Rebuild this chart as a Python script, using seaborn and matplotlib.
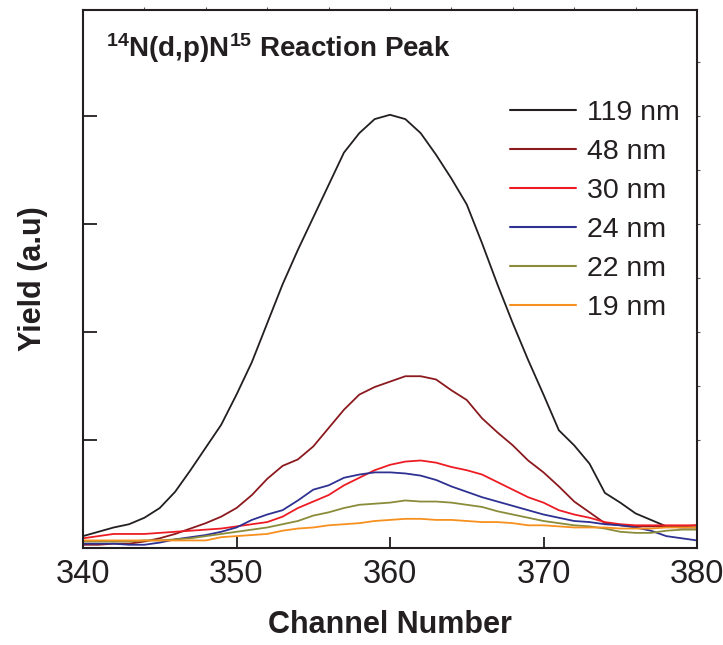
import numpy as np
import pandas as pd
import matplotlib
matplotlib.use("Agg")
import matplotlib.pyplot as plt
import seaborn as sns

channels = [340, 341, 342, 343, 344, 345, 346, 347, 348, 349, 350, 351, 352, 353, 354, 355,
            356, 357, 358, 359, 360, 361, 362, 363, 364, 365, 366, 367, 368, 369, 370,
            371, 372, 373, 374, 375, 376, 377, 378, 379, 380]

y_119 = [0.11, 0.15, 0.19, 0.22, 0.28, 0.37, 0.52, 0.72, 0.93, 1.14, 1.42, 1.72, 2.08, 2.44, 2.76, 3.06,
         3.36, 3.66, 3.84, 3.97, 4.01, 3.97, 3.84, 3.64, 3.42, 3.18, 2.82, 2.44, 2.08, 1.74, 1.42,
         1.09, 0.95, 0.78, 0.51, 0.42, 0.32, 0.26, 0.20, 0.19, 0.19]
y_48 = [0.03, 0.03, 0.04, 0.04, 0.06, 0.09, 0.13, 0.18, 0.23, 0.29, 0.37, 0.49, 0.64, 0.76, 0.82, 0.94,
        1.11, 1.28, 1.42, 1.49, 1.54, 1.59, 1.59, 1.56, 1.46, 1.37, 1.20, 1.07, 0.95, 0.81, 0.70,
        0.57, 0.43, 0.33, 0.23, 0.21, 0.20, 0.20, 0.20, 0.20, 0.21]
y_30 = [0.09, 0.11, 0.13, 0.13, 0.13, 0.14, 0.15, 0.16, 0.17, 0.18, 0.20, 0.22, 0.24, 0.29, 0.37, 0.43,
        0.49, 0.58, 0.65, 0.72, 0.77, 0.80, 0.81, 0.79, 0.75, 0.72, 0.68, 0.61, 0.54, 0.47, 0.42,
        0.35, 0.31, 0.28, 0.24, 0.22, 0.21, 0.21, 0.21, 0.21, 0.21]
y_24 = [0.04, 0.04, 0.04, 0.03, 0.03, 0.05, 0.08, 0.10, 0.12, 0.15, 0.19, 0.26, 0.31, 0.35, 0.44, 0.54,
        0.58, 0.65, 0.68, 0.70, 0.70, 0.69, 0.67, 0.63, 0.57, 0.52, 0.47, 0.43, 0.39, 0.35, 0.31,
        0.28, 0.25, 0.24, 0.22, 0.21, 0.19, 0.16, 0.11, 0.09, 0.07]
y_22 = [0.06, 0.06, 0.06, 0.06, 0.07, 0.07, 0.08, 0.09, 0.11, 0.13, 0.15, 0.17, 0.19, 0.22, 0.25, 0.30,
        0.33, 0.37, 0.40, 0.41, 0.42, 0.44, 0.43, 0.43, 0.42, 0.40, 0.38, 0.34, 0.31, 0.28, 0.25,
        0.23, 0.21, 0.20, 0.18, 0.15, 0.14, 0.14, 0.16, 0.17, 0.17]
y_19 = [0.07, 0.07, 0.07, 0.07, 0.07, 0.07, 0.07, 0.07, 0.07, 0.10, 0.11, 0.12, 0.13, 0.16, 0.18, 0.19,
        0.21, 0.22, 0.23, 0.25, 0.26, 0.27, 0.27, 0.26, 0.26, 0.25, 0.24, 0.24, 0.23, 0.21, 0.21,
        0.20, 0.19, 0.19, 0.19, 0.18, 0.18, 0.18, 0.19, 0.19, 0.19]

labels = ["119 nm", "48 nm", "30 nm", "24 nm", "22 nm", "19 nm"]
series = [y_119, y_48, y_30, y_24, y_22, y_19]
colors = ["#231f20", "#8b1a1e", "#ed1c24", "#2e3192", "#8a8c3a", "#f7901e"]

df = pd.concat([pd.DataFrame({"Channel": channels, "Yield": s, "Thickness": lab})
                for lab, s in zip(labels, series)], ignore_index=True)

sns.set_theme(style="white")
plt.rcParams["font.family"] = ["Liberation Sans", "DejaVu Sans"]
plt.rcParams["mathtext.default"] = "regular"

fig = plt.figure(figsize=(7.23, 6.45), dpi=100)
ax = fig.add_axes([83/723, 1-548/645, (697-83)/723, (548-10)/645])

sns.lineplot(data=df, x="Channel", y="Yield", hue="Thickness", hue_order=labels,
             palette=dict(zip(labels, colors)), linewidth=1.3, ax=ax, legend=True)

ax.set_xlim(340, 380)
ax.set_ylim(0, 4.98)
ax.set_xticks([340, 350, 360, 370, 380])
ax.set_xticks([345, 355, 365, 375], minor=True)
ax.set_yticks([1, 2, 3, 4])
ax.set_yticks([0.5, 1.5, 2.5, 3.5, 4.5], minor=True)
ax.set_yticklabels([])
ax.tick_params(axis="x", which="major", direction="in", length=8, width=1.3,
               labelsize=23.5, pad=8, colors="#231f20", labelcolor="#231f20")
ax.tick_params(axis="x", which="minor", direction="in", length=8, width=1.3, colors="#231f20")
ax.tick_params(axis="y", which="major", direction="in", length=10, width=1.3, colors="#231f20")
ax.tick_params(axis="y", which="minor", direction="in", length=4, width=1.3, colors="#231f20")
ax.tick_params(left=True, bottom=True)

for sp in ax.spines.values():
    sp.set_color("#231f20")
    sp.set_linewidth(1.5)

sec_top = ax.secondary_xaxis("top")
sec_top.set_xticks([344, 348, 352, 356, 360, 364, 368, 372, 376])
sec_top.set_xticklabels([])
sec_top.tick_params(direction="out", length=2, width=0.8, colors="#555555")
sec_top.spines["top"].set_visible(False)
sec_r = ax.secondary_yaxis("right")
sec_r.set_yticks([1, 1.5, 2, 2.5, 3, 3.5, 4, 4.5])
sec_r.set_yticklabels([])
sec_r.tick_params(direction="out", length=2, width=0.8, colors="#555555")
sec_r.spines["right"].set_visible(False)

ax.set_xlabel("Channel Number", fontsize=22, fontweight="bold", labelpad=14, color="#231f20")
ax.set_ylabel("Yield (a.u)", fontsize=22, fontweight="bold", labelpad=22, color="#231f20")

ax.text(0.038, 0.96, "$^{14}$N(d,p)N$^{15}$ Reaction Peak", transform=ax.transAxes,
        fontsize=20, fontweight="bold", ha="left", va="top", color="#231f20")

leg = ax.legend(loc="upper right", bbox_to_anchor=(1.0, 0.865), frameon=False,
                fontsize=20.5, handlelength=2.3, handletextpad=0.4, labelspacing=0.46,
                borderaxespad=0.2)
for line in leg.get_lines():
    line.set_linewidth(1.5)
for t in leg.get_texts():
    t.set_color("#231f20")

fig.savefig("out.png", dpi=100)
